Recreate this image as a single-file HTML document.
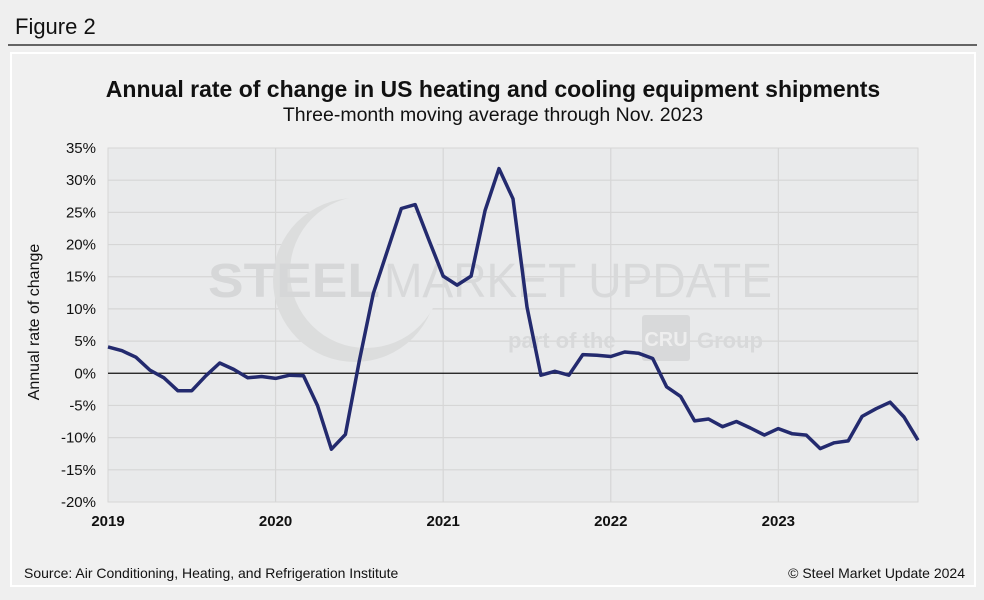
<!DOCTYPE html>
<html><head><meta charset="utf-8"><style>
body{margin:0;background:#efefef;font-family:"Liberation Sans",Arial,sans-serif}
</style></head><body>
<svg width="984" height="595" viewBox="0 0 984 595" xmlns="http://www.w3.org/2000/svg">
<rect width="984" height="595" fill="#efefef"/>
<text x="15" y="34" font-size="22" fill="#111">Figure 2</text>
<line x1="8" y1="45" x2="977" y2="45" stroke="#111" stroke-width="1.3"/>
<rect x="11" y="53" width="964" height="533" fill="#f0f0f0" stroke="#fff" stroke-width="2"/>
<text x="493" y="97" font-size="23" font-weight="bold" text-anchor="middle" fill="#111">Annual rate of change in US heating and cooling equipment shipments</text>
<text x="493" y="121" font-size="19.5" text-anchor="middle" fill="#111">Three-month moving average through Nov. 2023</text>
<rect x="108" y="148" width="810" height="354" fill="#e9eaeb" stroke="#d6d6d6"/>
<g id="grid"></g>
<g>
<circle cx="355" cy="280" r="82" fill="#dcdddd"/>
<circle cx="366" cy="272" r="76" fill="#e9eaeb"/>
<text x="208" y="297" font-size="48" font-weight="bold" fill="#d6d7d8" textLength="172" lengthAdjust="spacingAndGlyphs">STEEL</text>
<text x="384" y="297" font-size="48" fill="#d8d9da" textLength="388" lengthAdjust="spacingAndGlyphs">MARKET UPDATE</text>
<text x="508" y="348" font-size="22" font-weight="bold" fill="#d8d9da">part of the</text>
<rect x="642" y="315" width="48" height="46" rx="3" fill="#d8d9da"/>
<text x="666" y="346" font-size="20" font-weight="bold" fill="#eee" text-anchor="middle">CRU</text>
<text x="697" y="348" font-size="22" font-weight="bold" fill="#d8d9da">Group</text>
</g>
<g id="axes"></g>
<path id="series" fill="none" stroke="#232a6e" stroke-width="3.5" stroke-linejoin="round"/>
<text transform="translate(39,322) rotate(-90)" font-size="16" text-anchor="middle" fill="#111">Annual rate of change</text>
<text x="24" y="578" font-size="14" fill="#111">Source: Air Conditioning, Heating, and Refrigeration Institute</text>
<text x="965" y="578" font-size="14" text-anchor="end" fill="#111">© Steel Market Update 2024</text>
</svg>
<script>
const yTicks=[35,30,25,20,15,10,5,0,-5,-10,-15,-20];
const yearLabels=["2019","2020","2021","2022","2023"];
const values=[4.1,3.5,2.5,0.5,-0.7,-2.7,-2.7,-0.4,1.6,0.6,-0.7,-0.5,-0.8,-0.3,-0.4,-5,-11.8,-9.5,2,12.4,19,25.6,26.2,20.6,15.1,13.7,15.1,25.3,31.8,27.1,10.3,-0.3,0.3,-0.3,2.9,2.8,2.6,3.3,3.1,2.3,-2.1,-3.6,-7.4,-7.1,-8.3,-7.5,-8.5,-9.6,-8.6,-9.4,-9.6,-11.7,-10.8,-10.5,-6.7,-5.5,-4.5,-6.8,-10.4];
const NS="http://www.w3.org/2000/svg";
const x0=108,x1=918,yTop=148,yBot=502,vMax=35,vMin=-20;
const xs=i=>x0+i*(x1-x0)/58;
const ys=v=>yTop+(vMax-v)*(yBot-yTop)/(vMax-vMin);
const grid=document.getElementById('grid'),axes=document.getElementById('axes');
function mk(tag,attrs,parent){const e=document.createElementNS(NS,tag);for(const k in attrs)e.setAttribute(k,attrs[k]);parent.appendChild(e);return e;}
yTicks.forEach(v=>{
  if(v!==0&&v!==vMin&&v!==vMax){const l=mk('line',{x1:x0,x2:x1,y1:ys(v),y2:ys(v),stroke:'#d6d6d6','stroke-width':1.2},grid);
  
  }
  const t=mk('text',{x:96,y:ys(v)+5,'font-size':15,'text-anchor':'end',fill:'#111'},axes);
  t.textContent=v+'%';
  
  
});
yearLabels.forEach((y,k)=>{
  const x=xs(k*12);
  if(k>0){const l=mk('line',{x1:x,x2:x,y1:yTop,y2:yBot,stroke:'#d6d6d6','stroke-width':1.2},grid);
  
  }
  const t=mk('text',{x:x,y:526,'font-size':15,'font-weight':'bold','text-anchor':'middle',fill:'#111'},axes);
  t.textContent=y;
  
  
});
const z=mk('line',{x1:x0,x2:x1,y1:ys(0),y2:ys(0),stroke:'#111','stroke-width':1.3},axes);


document.getElementById('series').setAttribute('d',values.map((v,i)=>(i?'L':'M')+xs(i).toFixed(1)+','+ys(v).toFixed(1)).join(''));
</script>
</body></html>
